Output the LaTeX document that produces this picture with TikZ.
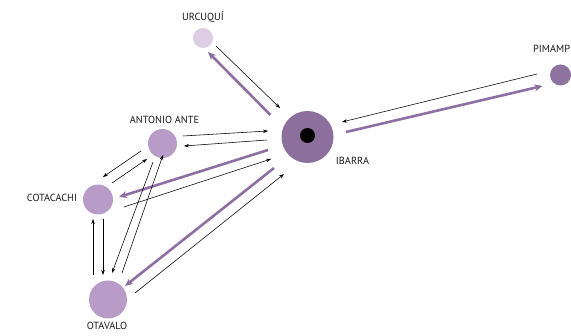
\documentclass[tikz,border=0pt]{standalone}
\usepackage{fontspec}
\setmainfont{PT Sans}
\usetikzlibrary{calc,arrows.meta}
\definecolor{ibac}{HTML}{8C6F9C}
\definecolor{pimc}{HTML}{8E729F}
\definecolor{midc}{HTML}{B99BC7}
\definecolor{urcc}{HTML}{DDCDE5}
\definecolor{arrc}{HTML}{8E6FA2}
\tikzset{
  city/.style={circle,inner sep=0pt,draw=none},
  lbl/.style={font=\fontsize{10.3}{11}\selectfont,text=black!90,inner sep=0pt},
  thinarr/.style={-{Stealth[length=5pt,width=3.5pt]},line width=0.55pt,black},
  thickarr/.style={-{Stealth[length=8pt,width=7pt]},line width=2.6pt,arrc},
}
\begin{document}
\begin{tikzpicture}[x=1pt,y=-1pt]
\useasboundingbox (0,0) rectangle (571,336);
% nodes
\node[city,fill=urcc,minimum size=20pt] (urc) at (203,38) {};
\node[city,fill=ibac,minimum size=52pt] (iba) at (307.5,137) {};
\node[city,fill=black,minimum size=15pt] (ibd) at (307.5,135.5) {};
\node[city,fill=pimc,minimum size=21pt] (pim) at (560.5,75) {};
\node[city,fill=midc,minimum size=29pt] (ant) at (162.5,143.5) {};
\node[city,fill=midc,minimum size=30pt] (cot) at (98,199.5) {};
\node[city,fill=midc,minimum size=38pt] (ota) at (108,299.5) {};
% labels
\node[lbl] (lurc) at (203,17) {URCUQUÍ};
\node[lbl] (liba) at (352.5,160.5) {IBARRA};
\node[lbl,anchor=west] (lpim) at (533,49) {PIMAMP};
\node[lbl] (lant) at (164.5,120) {ANTONIO ANTE};
\node[lbl] (lcot) at (52,198) {COTACACHI};
\node[lbl] (lota) at (107,326) {OTAVALO};
% Urcuqui - Ibarra
\draw[thinarr] ($(urc)+(13,8)$) -- ($(iba)+(-27.5,-29)$);
\draw[thickarr] ($(iba)+(-37,-22)$) -- ($(urc)+(5,14)$);
% Ibarra - Pimampiro
\draw[thinarr] ($(pim)+(-23.5,-1)$) -- ($(iba)+(34.5,-15)$);
\draw[thickarr] ($(iba)+(38.5,-5)$) -- ($(pim)+(-18,11)$);
% Ibarra - Antonio Ante
\draw[thinarr] ($(ant)+(20.5,-7.5)$) -- ($(iba)+(-39.5,-6)$);
\draw[thinarr] ($(iba)+(-40.5,3)$) -- ($(ant)+(21.5,2.5)$);
% Ibarra - Cotacachi
\draw[thickarr] ($(iba)+(-39.5,13)$) -- ($(cot)+(21,-2.5)$);
\draw[thinarr] ($(cot)+(26,7.5)$) -- ($(iba)+(-36.5,22)$);
% Ibarra - Otavalo
\draw[thickarr] ($(iba)+(-33.5,31)$) -- ($(ota)+(17,-13.5)$);
\draw[thinarr] ($(ota)+(27,-6.5)$) -- ($(iba)+(-23.5,37)$);
% Antonio Ante - Cotacachi
\draw[thinarr] ($(ant)+(-21.5,7.5)$) -- ($(cot)+(5,-22.5)$);
\draw[thinarr] ($(cot)+(14,-16.5)$) -- ($(ant)+(-15.5,15.5)$);
% Antonio Ante - Otavalo
\draw[thinarr] ($(ant)+(-9.5,18.5)$) -- ($(ota)+(4,-26.5)$);
\draw[thinarr] ($(ota)+(14,-26.5)$) -- ($(ant)+(0.5,11.5)$);
% Cotacachi - Otavalo
\draw[thinarr] ($(ota)+(-15,-24.5)$) -- ($(cot)+(-5,19.5)$);
\draw[thinarr] ($(cot)+(5,19.5)$) -- ($(ota)+(-5,-24.5)$);
\end{tikzpicture}
\end{document}
